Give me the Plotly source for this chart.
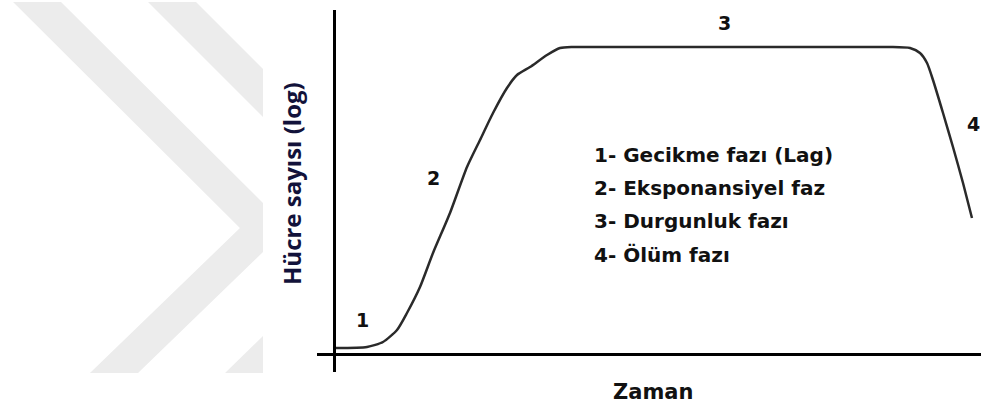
import plotly.graph_objects as go

# growth curve (time in arbitrary units, log cell count)
time = [0.036, 0.503, 0.744, 0.955, 1.105, 1.301, 1.497, 1.753, 2.009, 2.205,
        2.401, 2.611, 2.762, 2.958, 3.214, 3.410, 3.605, 4.163, 5.518, 7.928,
        8.380, 8.681, 8.831, 8.937, 9.027, 9.178, 9.328, 9.479, 9.614]
log_count = [0.163, 0.191, 0.329, 0.660, 1.130, 1.848, 2.787, 3.892, 5.163, 5.909,
             6.655, 7.345, 7.704, 7.925, 8.257, 8.450, 8.478, 8.478, 8.478, 8.478,
             8.478, 8.450, 8.312, 8.036, 7.566, 6.655, 5.715, 4.721, 3.754]

# phase numbers placed along the curve
phase_labels = ["1", "2", "3", "4"]
phase_x = [0.43, 1.50, 5.89, 9.63]
phase_y = [0.94, 4.86, 9.14, 6.35]

# explanation block
legend_items = ["1- Gecikme fazı (Lag)", "2- Eksponansiyel faz",
                "3- Durgunluk fazı", "4- Ölüm fazı"]
legend_y = [5.49, 4.58, 3.67, 2.73]

y_title = "Hücre sayısı (log)"
x_title = "Zaman"

W, H = 981, 407
comic = "Comic Sans MS, DejaVu Sans, sans-serif"
ink = "#111111"


def px(x, y):
    # pixel position -> paper fraction (margins are zero)
    return x / W, 1 - y / H


def poly(points):
    pts = [px(x, y) for x, y in points]
    return "M " + " L ".join(f"{a:.4f},{b:.4f}" for a, b in pts) + " Z"


fig = go.Figure()

fig.add_trace(go.Scatter(
    x=time, y=log_count, mode="lines",
    line=dict(color="#2a2a2a", width=2.5, shape="spline", smoothing=0.6),
    hoverinfo="skip", showlegend=False,
))

# faint chevron watermark on the left
chevrons = [
    [(13, 2), (61, 2), (263, 203), (263, 252), (138, 373), (90, 373), (240, 228)],
    [(148, 2), (196, 2), (263, 69), (263, 117)],
    [(225, 373), (263, 336), (263, 373)],
]
shapes = [dict(type="path", path=poly(c), xref="paper", yref="paper",
               fillcolor="#ececec", line=dict(width=0), layer="below")
          for c in chevrons]

annotations = []
for lab, x, y in zip(phase_labels, phase_x, phase_y):
    annotations.append(dict(x=x, y=y, text=lab, showarrow=False,
                            font=dict(family=comic, size=19, color=ink, weight="bold")))
for item, y in zip(legend_items, legend_y):
    annotations.append(dict(x=3.89, y=y, text=item, showarrow=False, xanchor="left",
                            font=dict(family=comic, size=20, color=ink, weight="bold")))

tx, ty = px(292, 184)
annotations.append(dict(x=tx, y=ty, xref="paper", yref="paper", text=y_title,
                        textangle=-90, showarrow=False,
                        xanchor="center", yanchor="middle",
                        font=dict(family="Open Sans, sans-serif", size=24,
                                  color="#12123a", weight="bold")))
zx, zy = px(653, 392)
annotations.append(dict(x=zx, y=zy, xref="paper", yref="paper", text=x_title,
                        showarrow=False, xanchor="center", yanchor="middle",
                        font=dict(family=comic, size=21, color=ink, weight="bold")))

axis_style = dict(showline=True, linecolor="black", linewidth=3, showgrid=False,
                  zeroline=False, showticklabels=False, ticks="")

fig.update_layout(
    width=W, height=H,
    margin=dict(l=0, r=0, t=0, b=0, autoexpand=False),
    paper_bgcolor="white", plot_bgcolor="rgba(0,0,0,0)",
    xaxis=dict(domain=[317 / W, 1], range=[-0.25, 9.75], anchor="free",
               position=1 - 354 / H, **axis_style),
    yaxis=dict(domain=[1 - 372 / H, 1 - 10 / H], range=[-0.5, 9.5], anchor="free",
               position=334 / W, **axis_style),
    shapes=shapes,
    annotations=annotations,
    showlegend=False,
)

# the page body has a default 8px margin; drop it so the figure fills the window
fig.write_html("out.html", config={"displayModeBar": False},
               post_script="document.body.style.margin='0';")
